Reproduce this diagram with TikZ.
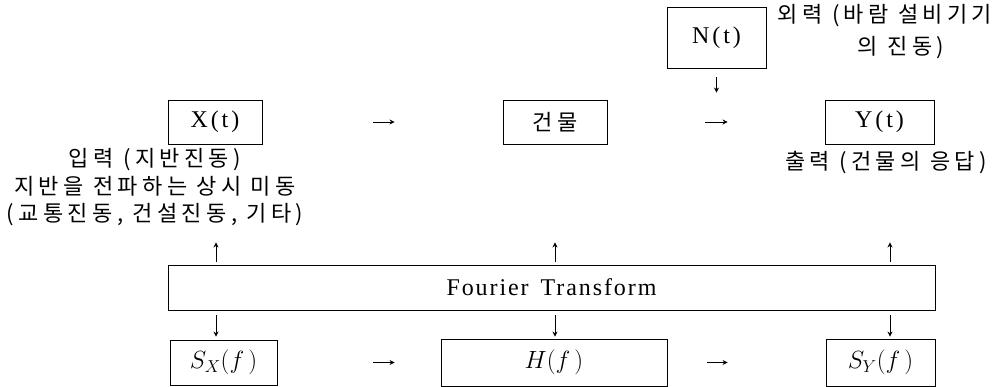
\documentclass[tikz,border=0pt]{standalone}
\usepackage{fontspec}
\setmainfont{Liberation Serif}
\newfontfamily\lat[LetterSpace=12]{Liberation Serif}
\newfontfamily\latft[LetterSpace=8]{Liberation Serif}
\newfontfamily\kr[LetterSpace=20]{Noto Sans CJK KR}
\usetikzlibrary{arrows.meta}
\begin{document}
\begin{tikzpicture}[x=1pt,y=-1pt,
  box/.style={draw, line width=0.9pt, inner sep=0pt},
  lattext/.style={font=\lat\fontsize{24}{28}\selectfont},
  mathtext/.style={font=\fontsize{27}{30}\selectfont},
  lab/.style={inner sep=0pt, font=\kr\fontsize{22}{27.5}\selectfont},
  arr/.style={-{Stealth[length=5pt,width=5pt]}, line width=0.8pt}]
\useasboundingbox (0,0) rectangle (998,387);
% columns
\coordinate (c1) at (216,0);
\coordinate (c2) at (555,0);
\coordinate (c3) at (890,0);
% boxes
\node[box, lattext, minimum width=99pt, minimum height=61pt] (nt) at (716.5,37.5) {N(t)};
\node[box, lattext, minimum width=94pt, minimum height=44pt] (xt) at (215,122) {X(t)};
\node[box, font=\kr\fontsize{22}{24}\selectfont, minimum width=104pt, minimum height=44pt] (bld) at (555,122) {건물};
\node[box, lattext, minimum width=109pt, minimum height=44pt] (yt) at (879.5,122) {Y(t)};
\node[box, font=\latft\fontsize{24}{28}\selectfont, minimum width=767pt, minimum height=45pt] (ft) at (551.5,287.5) {Fourier\, Transform};
\node[box, mathtext, minimum width=107pt, minimum height=45pt] (sx) at (223.5,362.5) {$S_X(f\,)$};
\node[box, mathtext, minimum width=226pt, minimum height=47pt] (h) at (554,362.5) {$H(f\,)$};
\node[box, mathtext, minimum width=109pt, minimum height=47pt] (sy) at (880.5,362.5) {$S_Y(f\,)$};
% labels
\node[lab, align=center] (inlab) at (155,187.5) {입력 (지반진동)\\지반을 전파하는 상시 미동\\(교통진동, 건설진동, 기타)};
\node[lab] (outlab) at (886,163) {출력 (건물의 응답)};
\node[lab, align=center, font=\kr\fontsize{22}{32}\selectfont] (nlab) at (885,32) {외력 (바람 설비기기\\\hspace*{32pt}의 진동)};
% time-domain arrows
\draw[arr, shorten <=111pt, shorten >=108pt] (xt.east) -- (bld.west);
\draw[arr, shorten <=98pt, shorten >=97pt] (bld.east) -- (yt.west);
\draw[arr, shorten <=9pt, shorten >=7pt] (nt.south) -- (nt.south |- bld.north);
% up arrows
\draw[arr, shorten <=3pt, shorten >=98pt] (ft.north -| c1) -- (xt.south -| c1);
\draw[arr, shorten <=3pt, shorten >=98pt] (ft.north -| c2) -- (bld.south -| c2);
\draw[arr, shorten <=3pt, shorten >=98pt] (ft.north -| c3) -- (yt.south -| c3);
% down arrows
\draw[arr, shorten <=5pt, shorten >=3pt] (ft.south -| c1) -- (sx.north -| c1);
\draw[arr, shorten <=5pt, shorten >=2pt] (ft.south -| c2) -- (h.north -| c2);
\draw[arr, shorten <=5pt, shorten >=2pt] (ft.south -| c3) -- (sy.north -| c3);
% frequency-domain arrows
\draw[arr, shorten <=96pt, shorten >=46pt] (sx.east) -- (h.west);
\draw[arr, shorten <=40pt, shorten >=98pt] (h.east) -- (sy.west);
\end{tikzpicture}
\end{document}
